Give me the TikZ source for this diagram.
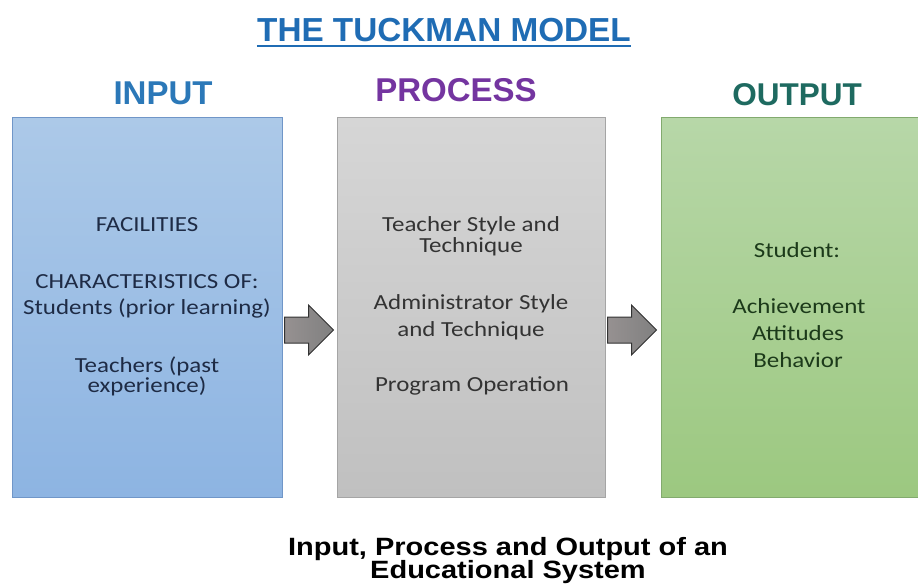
\documentclass[tikz,border=0pt]{standalone}
\usepackage{fontspec}
\setmainfont[FakeStretch=1.16]{Carlito}
\newfontfamily\hfont{Liberation Sans}
\newfontfamily\capfont[FakeStretch=1.16]{Liberation Sans}
\usetikzlibrary{calc}
\definecolor{titleblue}{HTML}{1F6CB4}
\definecolor{inblue}{HTML}{2B78B8}
\definecolor{procpurple}{HTML}{7435A0}
\definecolor{outteal}{HTML}{1E6A60}
\definecolor{intext}{HTML}{1E2B45}
\definecolor{proctext}{HTML}{333333}
\definecolor{outtext}{HTML}{1C3A1A}
\tikzset{
  box/.style={draw, line width=1pt, minimum height=379pt, inner sep=0pt},
  inbox/.style={box, draw={rgb,255:red,112;green,150;blue,200}, top color={rgb,255:red,172;green,201;blue,232}, bottom color={rgb,255:red,141;green,180;blue,226}},
  procbox/.style={box, draw={rgb,255:red,165;green,165;blue,165}, top color={rgb,255:red,214;green,214;blue,214}, bottom color={rgb,255:red,192;green,192;blue,192}},
  outbox/.style={box, draw={rgb,255:red,130;green,170;blue,110}, top color={rgb,255:red,183;green,215;blue,168}, bottom color={rgb,255:red,156;green,200;blue,128}},
  heading/.style={font=\hfont\bfseries\fontsize{33}{36}\selectfont, inner sep=0pt},
  btext/.style={font=\fontsize{21.5}{24}\selectfont, inner sep=0pt, anchor=center},
  blockarrow/.style={draw={rgb,255:red,50;green,50;blue,50}, line width=1pt, line join=miter, left color={rgb,255:red,150;green,145;blue,145}, right color={rgb,255:red,128;green,128;blue,128}},
}
\begin{document}
\begin{tikzpicture}[x=1pt,y=-1pt]
\useasboundingbox (0,0) rectangle (918,585);
% title
\node[font=\hfont\bfseries\fontsize{33.3}{36}\selectfont, text=titleblue, inner sep=0pt] (title) at (444,30) {THE TUCKMAN MODEL};
\draw[titleblue, line width=2pt] ([yshift=-4pt]title.south west) -- ([yshift=-4pt]title.south east);
% headings
\node[heading, text=inblue] (hin) at (163,93) {INPUT};
\node[heading, text=procpurple] (hpr) at (456,90) {PROCESS};
\node[heading, text=outteal, font=\hfont\bfseries\fontsize{31.5}{36}\selectfont] (hout) at (797,95) {OUTPUT};
% boxes
\node[inbox, minimum width=270pt] (in) at (147,307.5) {};
\node[procbox, minimum width=268pt] (pr) at (471,307.5) {};
\node[outbox, minimum width=260pt] (out) at (791,307.5) {};
% input text
\node[btext, text=intext] (i1) at (147,225) {FACILITIES};
\node[btext, text=intext] (i2) at (147,282) {CHARACTERISTICS OF:};
\node[btext, text=intext] (i3) at (147,308) {Students (prior learning)};
\node[btext, text=intext] (i4) at (147,366) {Teachers (past};
\node[btext, text=intext] (i5) at (147,386) {experience)};
% process text
\node[btext, text=proctext] (p1) at (471,226) {Teacher Style and};
\node[btext, text=proctext] (p2) at (471,247) {Technique};
\node[btext, text=proctext] (p3) at (471,304) {Administrator Style};
\node[btext, text=proctext] (p4) at (471,331) {and Technique};
\node[btext, text=proctext] (p5) at (472,386) {Program Operation};
% output text
\node[btext, text=outtext] (o1) at (797,250) {Student:};
\node[btext, text=outtext] (o2) at (799,306) {Achievement};
\node[btext, text=outtext] (o3) at (798,333) {Attitudes};
\node[btext, text=outtext] (o4) at (798,360) {Behavior};
% arrows
\coordinate (a1) at ($(in.east |- 0,330)+(2,0)$);
\coordinate (a2) at ($(pr.east |- 0,330)+(2,0)$);
\foreach \a in {a1,a2}{
  \draw[blockarrow] ($(\a)+(0,-13)$) -- ($(\a)+(24,-13)$) -- ($(\a)+(24,-25)$) -- ($(\a)+(49,0)$) -- ($(\a)+(24,25)$) -- ($(\a)+(24,13)$) -- ($(\a)+(0,13)$) -- cycle;
}
% caption
\node[font=\capfont\bfseries\fontsize{25}{25}\selectfont, inner sep=0pt] (c1) at (508,549) {Input, Process and Output of an};
\node[font=\capfont\bfseries\fontsize{25}{25}\selectfont, inner sep=0pt] (c2) at (508,572) {Educational System};
\end{tikzpicture}
\end{document}
